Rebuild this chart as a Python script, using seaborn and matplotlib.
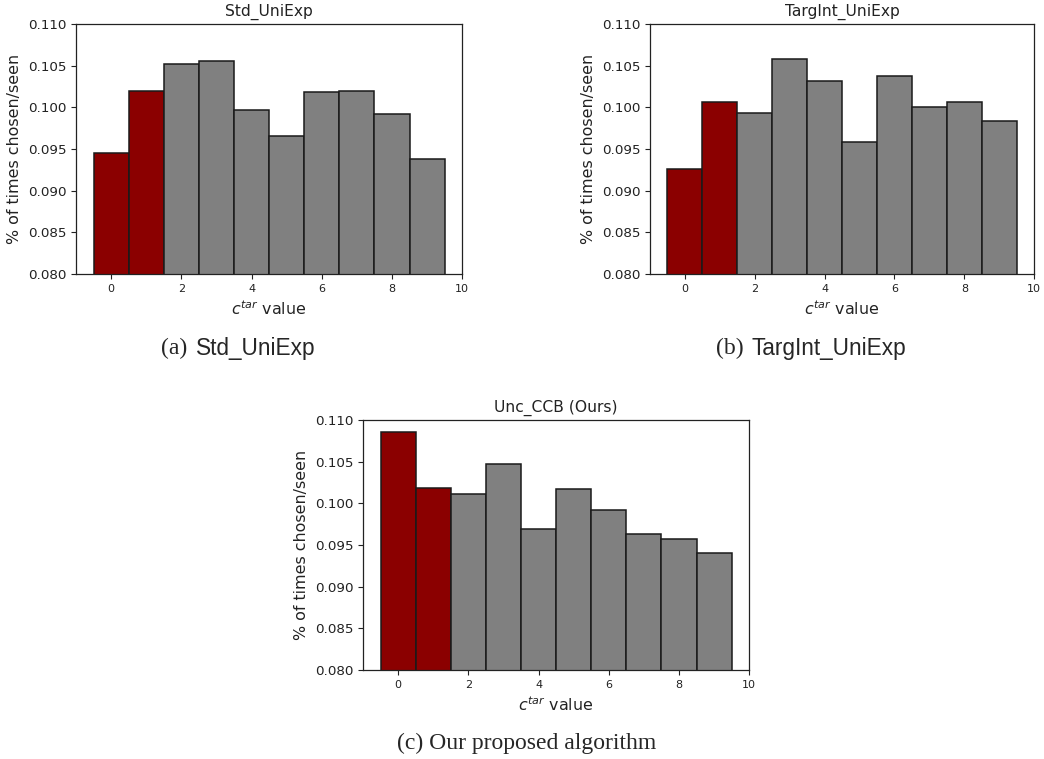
import matplotlib
matplotlib.use("Agg")
import matplotlib.pyplot as plt
import seaborn as sns

# c^tar values (bins) and the fraction chosen/seen per method
c_tar = [0, 1, 2, 3, 4, 5, 6, 7, 8, 9]
group = ["low", "low", "rest", "rest", "rest", "rest", "rest", "rest", "rest", "rest"]

std_uniexp = [0.0945, 0.1019, 0.1052, 0.1056, 0.0997, 0.0966, 0.1018, 0.1020, 0.0992, 0.0938]
targint_uniexp = [0.0926, 0.1006, 0.0993, 0.1058, 0.1031, 0.0958, 0.1038, 0.1000, 0.1006, 0.0984]
unc_ccb = [0.1085, 0.1018, 0.1011, 0.1047, 0.0969, 0.1017, 0.0992, 0.0963, 0.0957, 0.0940]

titles = ["Std_UniExp", "TargInt_UniExp", "Unc_CCB (Ours)"]
caption_tags = ["(a)", "(b)", "(c)"]
caption_names = ["Std_UniExp", "TargInt_UniExp", "Our proposed algorithm"]

sns.set_style("ticks")
plt.rcParams["font.family"] = ["DejaVu Sans"]

fig = plt.figure(figsize=(10.44, 7.59), dpi=100)

# axes boxes [left, bottom, width, height] in figure fractions
boxes = [
    [0.0728, 0.639, 0.370, 0.3294],
    [0.6226, 0.639, 0.368, 0.3294],
    [0.3477, 0.1173, 0.370, 0.3294],
]

palette = {"low": "#8b0000", "rest": "#808080"}

for box, vals, title in zip(boxes, [std_uniexp, targint_uniexp, unc_ccb], titles):
    ax = fig.add_axes(box)
    sns.barplot(
        x=c_tar, y=vals, hue=group, palette=palette,
        native_scale=True, width=1, dodge=False, saturation=1,
        edgecolor="#1a1a1a", linewidth=1.1, legend=False, ax=ax,
    )
    ax.set_xlim(-1, 10)
    ax.set_ylim(0.080, 0.110)
    ax.set_xticks([0, 2, 4, 6, 8, 10])
    ax.set_xticklabels(["0", "2", "4", "6", "8", "10"])
    ax.set_yticks([0.080, 0.085, 0.090, 0.095, 0.100, 0.105, 0.110])
    ax.set_yticklabels([f"{v:.3f}" for v in [0.080, 0.085, 0.090, 0.095, 0.100, 0.105, 0.110]])
    ax.tick_params(axis="x", labelsize=8, colors="#222222", length=3.5)
    ax.tick_params(axis="y", labelsize=9.7, colors="#222222", length=3.5)
    for s in ax.spines.values():
        s.set_visible(True)
        s.set_color("#222222")
        s.set_linewidth(0.9)
    ax.set_title(title, fontsize=11.2, color="#222222")
    ax.set_xlabel(r"$c^{tar}$ value", fontsize=11.4, color="#222222")
    ax.set_ylabel("% of times chosen/seen", fontsize=11.4, color="#222222")

# sub-figure captions: serif tag + sans name
fig.text(193 / 1044, 1 - 348 / 759, caption_tags[0] + " ", ha="right", va="center",
         fontsize=17, family="Liberation Serif")
fig.text(196 / 1044, 1 - 348 / 759, caption_names[0], ha="left", va="center",
         fontsize=16.3, family="Liberation Sans")
fig.text(749 / 1044, 1 - 348 / 759, caption_tags[1] + " ", ha="right", va="center",
         fontsize=17, family="Liberation Serif")
fig.text(752 / 1044, 1 - 348 / 759, caption_names[1], ha="left", va="center",
         fontsize=16.3, family="Liberation Sans")
fig.text(527 / 1044, 1 - 743 / 759, caption_tags[2] + " " + caption_names[2], ha="center",
         va="center", fontsize=17, family="Liberation Serif")

fig.savefig("out.png", dpi=100)
